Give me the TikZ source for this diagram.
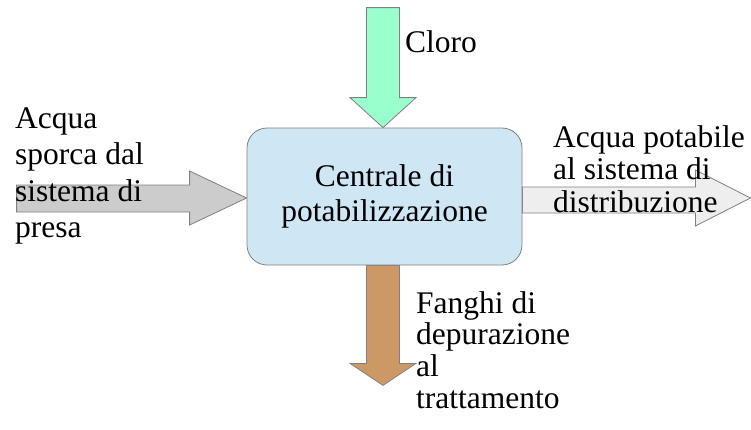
\documentclass[tikz,border=0pt]{standalone}
\usepackage{fontspec}
\setmainfont{Liberation Serif}
\usetikzlibrary{calc}
\definecolor{boxfill}{RGB}{207,231,245}
\definecolor{edgegray}{RGB}{128,128,128}
\definecolor{clorogreen}{RGB}{153,255,204}
\definecolor{inletgray}{RGB}{204,204,204}
\definecolor{outletgray}{RGB}{238,238,238}
\definecolor{sludge}{RGB}{204,153,102}
\newcommand{\lblines}[2]{\vtop{\baselineskip=#1pt\relax #2}}
\tikzset{
  blockarrow/.style={draw=edgegray, line width=0.8pt, line join=miter},
  plant/.style={draw=edgegray, fill=boxfill, line width=0.8pt, rounded corners=20pt,
    minimum width=275pt, minimum height=137pt, inner sep=0pt, align=center,
    font=\fontsize{31.5}{35}\selectfont},
  lbl/.style={anchor=base west, inner sep=0pt, font=\fontsize{31.5}{32}\selectfont}
}
\begin{document}
\begin{tikzpicture}[x=1pt,y=-1pt]
\useasboundingbox (0,0) rectangle (751,429);
\coordinate (plantc) at (384.5,196.5);
% box placed first (hidden) for anchors
\path (plantc) node[plant, draw=none, fill=none, text opacity=0] (boxref) {Centrale di\\potabilizzazione};
% left inlet arrow
\path[blockarrow, fill=inletgray] ($(boxref.west)+(0,1.5)$) coordinate (intip)
  -- ++(-57,-27) -- ++(0,14) -- ++(-173,0) -- ++(0,27) -- ++(173,0) -- ++(0,13) -- cycle;
% top chlorine arrow
\path[blockarrow, fill=clorogreen] ($(boxref.north)+(-1.5,0)$) coordinate (cltip)
  -- ++(-33,-30) -- ++(16.5,0) -- ++(0,-90) -- ++(33,0) -- ++(0,90) -- ++(16.5,0) -- cycle;
% bottom sludge arrow
\path[blockarrow, fill=sludge] ($(boxref.south)+(-18,0)$) coordinate (slstart)
  -- ++(0,98) -- ++(-16.5,0) -- ++(33,22) -- ++(33,-22) -- ++(-16.5,0) -- ++(0,-98) -- cycle;
% right outlet arrow
\path[blockarrow, fill=outletgray] ($(boxref.east)+(0,-9.5)$) coordinate (outstart)
  -- ++(173,0) -- ++(0,-17) -- ++(55,28) -- ++(-55,28) -- ++(0,-13) -- ++(-173,0) -- cycle;
% main box
\node[plant] (plant) at (plantc) {Centrale di\\potabilizzazione};
% labels
\node[lbl] (cloro) at (405,52) {Cloro};
\node[lbl] (inlbl) at (15,128) {\lblines{36.5}{\hbox{Acqua}\hbox{sporca dal}\hbox{sistema di}\hbox{presa}}};
\node[lbl] (outlbl) at (553,147) {\lblines{32.5}{\hbox{Acqua potabile}\hbox{al sistema di}\hbox{distribuzione}}};
\node[lbl] (sllbl) at (416,313) {\lblines{31.7}{\hbox{Fanghi di}\hbox{depurazione}\hbox{al}\hbox{trattamento}}};
\end{tikzpicture}
\end{document}
